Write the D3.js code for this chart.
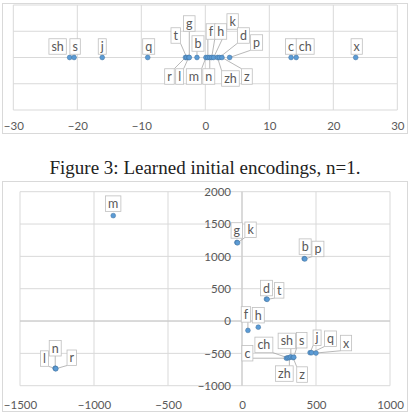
<!DOCTYPE html>
<html><head><meta charset="utf-8">
<script src="https://cdn.jsdelivr.net/npm/d3@7"></script>
<style>body{margin:0;background:#fff}svg{display:block}</style>
</head><body>
<script>
// ---- Data: top chart (1-D encodings, n=1) ----
const topNames  = ["sh","s","j","q","r","t","l","g","b","m","f","n","h","k","zh","d","z","p","c","ch","x"];
const topValues = [-21.2,-20.5,-16.1,-9.0,-3.1,-2.9,-2.6,-2.5,-1.3,0.1,0.4,0.7,1.0,1.3,1.9,2.2,2.6,3.8,13.4,14.2,23.5];
const topXTicks = [-30,-20,-10,0,10,20,30];
const topYTicks = [-1,-0.5,0,0.5,1];

// ---- Data: bottom chart (2-D encodings) ----
const botNames = ["m","g","k","b","p","d","t","f","h","c","ch","zh","sh","z","s","j","q","x","l","n","r"];
const botX = [-870,-35,-30,420,425,165,170,40,110,300,310,320,330,345,350,460,470,500,-1260,-1262,-1258];
const botY = [1630,1215,1210,965,960,340,335,-145,-95,-575,-570,-565,-555,-565,-560,-490,-490,-495,-735,-730,-738];
const botXTicks = [-1500,-1000,-500,0,500,1000];
const botYTicks = [-1000,-500,0,500,1000,1500,2000];

const caption = "Figure 3: Learned initial encodings, n=1.";

// ---- Layout: label offsets (pixels, relative to point) ----
const topLabelOffset = {
  sh:[-12,-11], s:[1,-11], j:[0,-11], q:[1,-11], r:[-16,19], t:[-11,-22], l:[-9,19], g:[0,-34],
  b:[1,-14], m:[-12,19], f:[3,-26], n:[-1,19], h:[9,-26], k:[19,-36], zh:[13,21], d:[24,-22],
  z:[25,19], p:[27,-15], c:[0,-11], ch:[9,-11], x:[1,-11]
};
const botLabelOffset = {
  m:[0,-12], g:[0,-12], k:[13,-13], b:[1,-12], p:[13,-10], d:[0,-11], t:[12,-9], f:[-2,-16],
  h:[0,-12], c:[-39,-5], ch:[-24,-13], zh:[-5,16], sh:[-4,-16], z:[9,17], s:[8,-17],
  j:[7,-15], q:[19,-14], x:[30,-10], l:[-11,-10], n:[0,-20], r:[16,-11]
};

const W = 413, H = 415;
const svg = d3.select("body").append("svg").attr("width", W).attr("height", H);
svg.append("rect").attr("width", W).attr("height", H).attr("fill", "#fff");

const gridColor = "#d9d9d9", textColor = "#595959", font = "Lato, 'Open Sans', sans-serif";
const dotFill = "#5b9bd5", dotStroke = "#41719c";

function drawLabels(g, pts, offsets) {
  const lbl = g.append("g");
  pts.forEach(p => {
    const [dx, dy] = offsets[p.name];
    const cx = p.px + dx, cy = p.py + dy;
    const t = lbl.append("text").attr("x", cx).attr("y", cy).attr("text-anchor", "middle")
      .attr("dominant-baseline", "central").attr("font-family", font).attr("font-size", 12.5)
      .attr("fill", textColor).text(p.name);
    const w = t.node().getComputedTextLength() + 5, h = 15.5;
    const x0 = cx - w / 2, y0 = cy - h / 2;
    const nx = Math.max(x0, Math.min(p.px, x0 + w)), ny = Math.max(y0, Math.min(p.py, y0 + h));
    const dist = Math.hypot(nx - p.px, ny - p.py);
    if (dist > 5) {
      lbl.insert("line", ":first-child").attr("x1", nx).attr("y1", ny).attr("x2", p.px).attr("y2", p.py)
        .attr("stroke", "#a6a6a6").attr("stroke-width", 0.8);
    }
    lbl.insert("rect", function(){ return t.node(); }).attr("x", x0).attr("y", y0).attr("width", w).attr("height", h)
      .attr("fill", "#fff").attr("stroke", "#bfbfbf").attr("stroke-width", 0.8);
  });
}

// ================= Top chart =================
{
  const g = svg.append("g");
  g.append("rect").attr("x", 2.5).attr("y", 3.5).attr("width", 405).attr("height", 130)
    .attr("fill", "#fff").attr("stroke", gridColor);
  const x = d3.scaleLinear().domain([-30, 30]).range([13.3, 397.3]);
  const y = d3.scaleLinear().domain([-1, 1]).range([110, 5]);
  g.append("g").selectAll("line").data(topXTicks).join("line")
    .attr("x1", d => x(d)).attr("x2", d => x(d)).attr("y1", y(-1)).attr("y2", y(1))
    .attr("stroke", gridColor);
  g.append("g").selectAll("line").data(topYTicks).join("line")
    .attr("x1", x(-30)).attr("x2", x(30)).attr("y1", d => y(d)).attr("y2", d => y(d))
    .attr("stroke", gridColor);
  const xAxis = g.append("g").attr("transform", `translate(0,${y(-1)})`)
    .call(d3.axisBottom(x).tickValues(topXTicks).tickSize(0).tickPadding(12).tickFormat(d3.format("d")));
  xAxis.select(".domain").remove();
  xAxis.selectAll("text").attr("font-family", font).attr("font-size", 11.5).attr("fill", textColor);

  const pts = topNames.map((n, i) => ({name: n, px: x(topValues[i]), py: y(0)}));
  drawLabels(g, pts, topLabelOffset);
  g.append("g").selectAll("circle").data(pts).join("circle")
    .attr("cx", d => d.px).attr("cy", d => d.py).attr("r", 2.4)
    .attr("fill", dotFill).attr("stroke", dotStroke).attr("stroke-width", 0.5);
}

// ================= Caption =================
svg.append("text").attr("x", 205).attr("y", 174).attr("text-anchor", "middle")
  .attr("font-family", "'Liberation Serif', 'Times New Roman', serif").attr("font-size", 19)
  .attr("fill", "#222").text(caption);

// ================= Bottom chart =================
{
  const g = svg.append("g");
  g.append("rect").attr("x", 2.5).attr("y", 181.5).attr("width", 405).attr("height", 230)
    .attr("fill", "#fff").attr("stroke", gridColor);
  const x = d3.scaleLinear().domain([-1500, 1000]).range([20, 390]);
  const y = d3.scaleLinear().domain([-1000, 2000]).range([385.7, 191.7]);
  g.append("g").selectAll("line").data(botXTicks).join("line")
    .attr("x1", d => x(d)).attr("x2", d => x(d)).attr("y1", y(-1000)).attr("y2", y(2000))
    .attr("stroke", gridColor);
  g.append("g").selectAll("line").data(botYTicks).join("line")
    .attr("x1", x(-1500)).attr("x2", x(1000)).attr("y1", d => y(d)).attr("y2", d => y(d))
    .attr("stroke", gridColor);
  g.append("line").attr("x1", x(-1500)).attr("x2", x(1000)).attr("y1", y(0)).attr("y2", y(0)).attr("stroke", "#c8c8c8");
  g.append("line").attr("x1", x(0)).attr("x2", x(0)).attr("y1", y(-1000)).attr("y2", y(2000)).attr("stroke", "#c8c8c8");

  const xAxis = g.append("g").attr("transform", `translate(0,${y(-1000)})`)
    .call(d3.axisBottom(x).tickValues(botXTicks).tickSize(0).tickPadding(15).tickFormat(d3.format("d")));
  xAxis.select(".domain").remove();
  xAxis.selectAll("text").attr("font-family", font).attr("font-size", 11.5).attr("fill", textColor);

  const yAxis = g.append("g").attr("transform", `translate(${x(0)},0)`)
    .call(d3.axisLeft(y).tickValues(botYTicks).tickSize(0).tickPadding(11).tickFormat(d3.format("d")));
  yAxis.select(".domain").remove();
  yAxis.selectAll("text").attr("font-family", font).attr("font-size", 11.5).attr("fill", textColor);

  const pts = botNames.map((n, i) => ({name: n, px: x(botX[i]), py: y(botY[i])}));
  drawLabels(g, pts, botLabelOffset);
  g.append("g").selectAll("circle").data(pts).join("circle")
    .attr("cx", d => d.px).attr("cy", d => d.py).attr("r", 2.4)
    .attr("fill", dotFill).attr("stroke", dotStroke).attr("stroke-width", 0.5);
}
</script>
</body></html>
